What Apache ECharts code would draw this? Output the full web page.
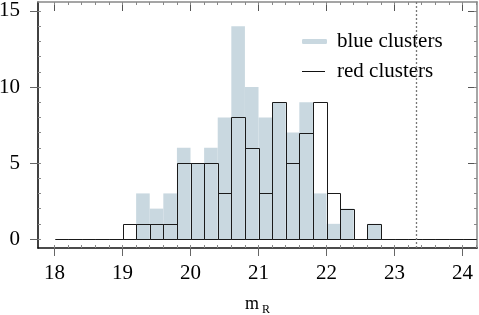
<!DOCTYPE html>
<html>
<head>
<meta charset="utf-8">
<script src="https://cdn.jsdelivr.net/npm/echarts@6/dist/echarts.min.js"></script>
<style>
html,body{margin:0;padding:0;background:#fff;}
#chart{width:479px;height:315px;}
</style>
</head>
<body>
<div id="chart"></div>
<script>
// Histogram bins (left edges, width 0.2 mag)
var binLefts = [18.0,18.2,18.4,18.6,18.8,19.0,19.2,19.4,19.6,19.8,20.0,20.2,20.4,20.6,20.8,21.0,21.2,21.4,21.6,21.8,22.0,22.2,22.4,22.6,22.8,23.0,23.2,23.4,23.6,23.8,24.0];
var binWidth = 0.2;
var blueCounts = [0,0,0,0,0,0,3,2,3,6,5,6,8,14,10,8,9,7,9,3,1,2,0,1,0,0,0,0,0,0,0];
var redCounts  = [0,0,0,0,0,1,1,1,1,5,5,5,3,8,6,3,9,5,7,9,3,2,0,1,0,0,0,0,0,0,0];
var limitMag = 23.32;
var xTickLabels = [18,19,20,21,22,23,24];
var yTickLabels = [0,5,10,15];
var xRange = [17.757, 24.213];
var yRange = [-0.59, 15.59];

var xMinor = [];
for (var i = 0; i <= 31; i++) xMinor.push(Math.round((18 + i * 0.2) * 10) / 10);
var yMinor = [];
for (var j = 0; j <= 15; j++) yMinor.push(j);

var FONT = 'Liberation Serif';
var BLUE = '#c9d8e0';

var blueData = binLefts.map(function (x, k) { return [x, blueCounts[k]]; });
var redData = binLefts.map(function (x, k) { return [x, redCounts[k]]; });

function snap(v) { return Math.round(v) + 0.5; }

function baseX(extra) {
  var o = {
    type: 'value', gridIndex: 0, min: xRange[0], max: xRange[1],
    splitLine: {show: false},
    axisLine: {show: false, onZero: false},
    axisLabel: {show: false},
    axisTick: {show: false}
  };
  for (var k in extra) o[k] = extra[k];
  return o;
}
function baseY(extra) {
  var o = {
    type: 'value', gridIndex: 0, min: yRange[0], max: yRange[1],
    splitLine: {show: false},
    axisLine: {show: false, onZero: false},
    axisLabel: {show: false},
    axisTick: {show: false}
  };
  for (var k in extra) o[k] = extra[k];
  return o;
}

var chart = echarts.init(document.getElementById('chart'), null, {renderer: 'canvas'});
var option = {
  animation: false,
  backgroundColor: '#fff',
  grid: {left: 38, right: 2, top: 2, bottom: 67, containLabel: false, outerBoundsMode: 'none'},
  xAxis: [
    baseX({
      position: 'bottom',
      axisLine: {show: true, onZero: false, lineStyle: {color: '#111', width: 1.6}},
      axisTick: {show: true, inside: false, length: 8, customValues: xTickLabels, lineStyle: {color: '#666', width: 1}},
      axisLabel: {show: true, customValues: xTickLabels, margin: 15, color: '#000', fontFamily: FONT, fontSize: 21},
      name: '{m|m}{r|R}',
      nameLocation: 'middle',
      nameGap: 47,
      nameTextStyle: {
        fontFamily: FONT, fontSize: 18, color: '#000',
        rich: {
          m: {fontFamily: FONT, fontSize: 18, color: '#000', verticalAlign: 'bottom', padding: [0, 3, 3, 0]},
          r: {fontFamily: FONT, fontSize: 12, color: '#000', verticalAlign: 'bottom'}
        }
      }
    }),
    baseX({
      position: 'bottom',
      axisTick: {show: true, inside: true, length: 3, customValues: xMinor, lineStyle: {color: '#888', width: 1}}
    }),
    baseX({
      position: 'top',
      axisLine: {show: true, onZero: false, lineStyle: {color: '#888', width: 1.5}},
      axisTick: {show: true, inside: true, length: 9, customValues: xTickLabels, lineStyle: {color: '#555', width: 1}}
    }),
    baseX({
      position: 'top',
      axisTick: {show: true, inside: true, length: 3, customValues: xMinor, lineStyle: {color: '#888', width: 1}}
    })
  ],
  yAxis: [
    baseY({
      position: 'left',
      axisLine: {show: true, onZero: false, lineStyle: {color: '#111', width: 1.6}},
      axisTick: {show: true, inside: false, length: 8, customValues: yTickLabels, lineStyle: {color: '#666', width: 1}},
      axisLabel: {show: true, customValues: yTickLabels, margin: 18, color: '#000', fontFamily: FONT, fontSize: 21}
    }),
    baseY({
      position: 'left',
      axisTick: {show: true, inside: true, length: 3, customValues: yMinor, lineStyle: {color: '#888', width: 1}}
    }),
    baseY({
      position: 'right',
      axisLine: {show: true, onZero: false, lineStyle: {color: '#888', width: 1.5}},
      axisTick: {show: true, inside: true, length: 9, customValues: yTickLabels, lineStyle: {color: '#555', width: 1}}
    }),
    baseY({
      position: 'right',
      axisTick: {show: true, inside: true, length: 3, customValues: yMinor, lineStyle: {color: '#888', width: 1}}
    })
  ],
  legend: [
    {
      left: 302, top: 31, padding: 0, selectedMode: false,
      itemWidth: 25, itemHeight: 5,
      textStyle: {fontFamily: FONT, fontSize: 21, color: '#000', padding: [0, 0, 0, 5]},
      data: [{name: 'blue clusters', icon: 'roundRect', itemStyle: {color: BLUE}}]
    },
    {
      left: 302, top: 61, padding: 0, selectedMode: false,
      itemWidth: 23, itemHeight: 1,
      textStyle: {fontFamily: FONT, fontSize: 21, color: '#000', padding: [0, 0, 0, 7]},
      data: [{name: 'red clusters', icon: 'rect', itemStyle: {color: '#111'}}]
    }
  ],
  series: [
    {
      name: 'blue clusters',
      type: 'custom',
      xAxisIndex: 0, yAxisIndex: 0,
      itemStyle: {color: BLUE},
      encode: {x: 0, y: 1},
      data: blueData,
      renderItem: function (params, api) {
        var x0 = api.value(0), c = api.value(1);
        if (!c) return null;
        var p0 = api.coord([x0, 0]);
        var p1 = api.coord([x0 + binWidth, c]);
        return {
          type: 'rect',
          shape: {x: p0[0], y: p1[1], width: p1[0] - p0[0], height: p0[1] - p1[1]},
          style: {fill: BLUE, stroke: null}
        };
      },
      z: 2
    },
    {
      name: 'red clusters',
      type: 'custom',
      xAxisIndex: 0, yAxisIndex: 0,
      itemStyle: {color: '#111'},
      encode: {x: 0, y: 1},
      data: redData,
      renderItem: function (params, api) {
        var x0 = api.value(0), c = api.value(1);
        var p0 = api.coord([x0, 0]);
        var p1 = api.coord([x0 + binWidth, c]);
        var xa = snap(p0[0]), xb = snap(p1[0]), yb = snap(p0[1]), yt = snap(p1[1]);
        return {
          type: 'polyline',
          shape: {points: [[xa, yb], [xa, yt], [xb, yt], [xb, yb], [xa, yb]]},
          style: {fill: null, stroke: '#1a1a1a', lineWidth: 1}
        };
      },
      z: 3
    },
    {
      name: 'limit',
      type: 'line',
      xAxisIndex: 0, yAxisIndex: 0,
      data: [],
      silent: true,
      markLine: {
        silent: true,
        symbol: ['none', 'none'],
        label: {show: false},
        lineStyle: {color: '#777', type: [2, 2], width: 1.3},
        data: [{xAxis: limitMag}]
      },
      z: 4
    }
  ]
};
chart.setOption(option);
</script>
</body>
</html>
